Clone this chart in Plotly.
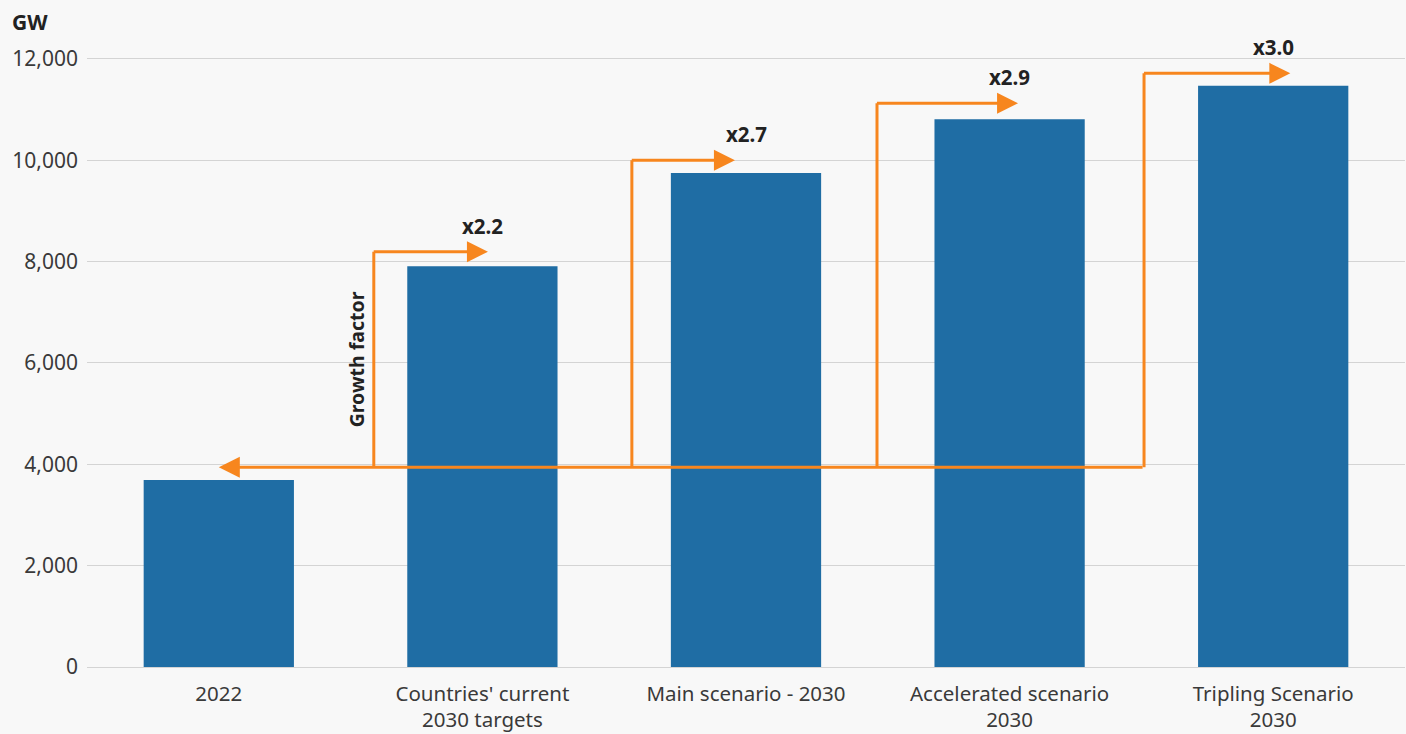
import plotly.graph_objects as go

categories = ["2022", "Countries' current<br>2030 targets", "Main scenario - 2030",
              "Accelerated scenario<br>2030", "Tripling Scenario<br>2030"]
capacity_gw = [3690, 7910, 9750, 10810, 11470]

growth_labels = ["x2.2", "x2.7", "x2.9", "x3.0"]
baseline_gw = 3940
arrow_top_gw = [8196, 10000, 11125, 11717]
arrow_start_x = [0.588, 1.567, 2.497, 3.51]
arrow_tip_x = [1.021, 1.958, 3.032, 4.065]

ORANGE = "#F7861E"
BLUE = "#1F6DA4"
FONT = "Noto Sans"
TXT = "#3A3A3A"

x_idx = list(range(len(categories)))

fig = go.Figure()
fig.add_trace(go.Bar(x=x_idx, y=capacity_gw, marker_color=BLUE, width=0.57,
                     marker_line_width=0, hoverinfo="skip"))

shapes = []
annotations = []
# vertical segments
for sx, top in zip(arrow_start_x, arrow_top_gw):
    shapes.append(dict(type="line", xref="x", yref="y", x0=sx, x1=sx, y0=baseline_gw, y1=top,
                       line=dict(color=ORANGE, width=3), layer="above"))
# top horizontal arrows + growth labels above target bars
for i, (sx, tx, top, lab) in enumerate(zip(arrow_start_x, arrow_tip_x, arrow_top_gw, growth_labels)):
    annotations.append(dict(x=tx, y=top, ax=sx - 0.006, ay=top, xref="x", yref="y", axref="x", ayref="y",
                            text="", showarrow=True, arrowhead=2, arrowsize=1.4, arrowwidth=3,
                            arrowcolor=ORANGE, standoff=0, startstandoff=0))
    annotations.append(dict(x=x_idx[i + 1], y=top, xref="x", yref="y", text="<b>%s</b>" % lab,
                            showarrow=False, yshift=26, font=dict(family=FONT, size=20.5, color="#222")))
# baseline arrow back to 2022
annotations.append(dict(x=0, y=baseline_gw, ax=arrow_start_x[-1], ay=baseline_gw, xref="x", yref="y",
                        axref="x", ayref="y", text="", showarrow=True, arrowhead=2, arrowsize=1.4,
                        arrowwidth=3, arrowcolor=ORANGE, standoff=0, startstandoff=0))
# Growth factor label
annotations.append(dict(x=arrow_start_x[0], y=(baseline_gw + arrow_top_gw[0]) / 2, xref="x", yref="y",
                        text="<b>Growth factor</b>", textangle=-90, showarrow=False, xshift=-17,
                        font=dict(family=FONT, size=19.5, color="#222")))
# axis unit label
annotations.append(dict(x=0, y=1, xref="paper", yref="paper", text="<b>GW</b>", showarrow=False,
                        xanchor="left", yanchor="middle", xshift=-77, yshift=-2,
                        font=dict(family=FONT, size=21, color="#222")))

fig.update_layout(
    width=1406, height=734,
    margin=dict(l=87, r=1, t=20, b=67),
    paper_bgcolor="#F8F8F8", plot_bgcolor="#F8F8F8",
    showlegend=False, bargap=0.43,
    font=dict(family=FONT, size=20.5, color=TXT),
    shapes=shapes, annotations=annotations,
    xaxis=dict(tickvals=x_idx, ticktext=categories, range=[-0.5, 4.5], showgrid=False,
               showline=False, zeroline=False, ticks="", ticklabelstandoff=12,
               tickfont=dict(size=20.5, color=TXT)),
    yaxis=dict(range=[0, 12769], tickvals=[0, 2000, 4000, 6000, 8000, 10000, 12000], tickformat=",",
               showgrid=True, gridcolor="#D4D4D4", gridwidth=1, zeroline=True, zerolinecolor="#D4D4D4",
               zerolinewidth=1, showline=False, ticks="", ticklabelstandoff=8,
               tickfont=dict(size=21, color=TXT)),
)

fig.write_html("out.html")
